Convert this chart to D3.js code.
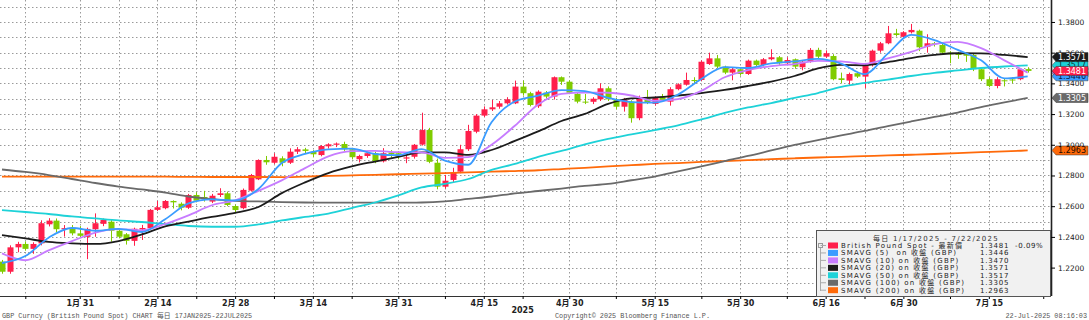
<!DOCTYPE html>
<html>
<head>
<meta charset="utf-8">
<script src="https://cdn.jsdelivr.net/npm/d3@7"></script>
<style>
  body { margin: 0; background: #fff; }
  svg { display: block; }
  text { font-family: "DejaVu Sans", "Noto Sans CJK TC", sans-serif; }
</style>
</head>
<body>
<svg id="chart"></svg>
<script>
const width = 1089, height = 320;
const plot = { left: 0, right: 1051, top: 0, bottom: 296 };

// GBP daily candles from 17 Jan 2025, [open, high, low, close]
const ohlc = [
  [1.2239,1.2250,1.2160,1.2173],[1.2173,1.2345,1.2160,1.2332],[1.2332,1.2368,1.2300,1.2354],[1.2354,1.2370,1.2310,1.2322],
  [1.2322,1.2365,1.2290,1.2354],[1.2358,1.2508,1.2345,1.2489],[1.2482,1.2522,1.2468,1.2506],[1.2506,1.2520,1.2430,1.2450],
  [1.2450,1.2477,1.2402,1.2457],[1.2460,1.2477,1.2410,1.2423],[1.2423,1.2470,1.2395,1.2407],[1.2400,1.2460,1.2255,1.2452],
  [1.2450,1.2553,1.2401,1.2489],[1.2485,1.2520,1.2470,1.2510],[1.2499,1.2512,1.2369,1.2440],[1.2440,1.2452,1.2390,1.2401],
  [1.2417,1.2425,1.2350,1.2374],[1.2374,1.2460,1.2342,1.2453],[1.2448,1.2478,1.2380,1.2458],[1.2457,1.2582,1.2450,1.2576],
  [1.2576,1.2634,1.2568,1.2593],[1.2587,1.2640,1.2580,1.2634],[1.2634,1.2638,1.2585,1.2625],[1.2616,1.2625,1.2573,1.2590],
  [1.2590,1.2680,1.2582,1.2673],[1.2673,1.2690,1.2625,1.2636],[1.2660,1.2700,1.2630,1.2645],[1.2630,1.2680,1.2620,1.2668],
  [1.2673,1.2717,1.2660,1.2684],[1.2684,1.2695,1.2600,1.2608],[1.2601,1.2610,1.2560,1.2575],[1.2587,1.2715,1.2580,1.2706],
  [1.2701,1.2810,1.2695,1.2803],[1.2775,1.2905,1.2770,1.2901],[1.2901,1.2927,1.2870,1.2886],[1.2883,1.2945,1.2875,1.2922],
  [1.2912,1.2925,1.2860,1.2883],[1.2883,1.2977,1.2875,1.2955],[1.2955,1.2985,1.2940,1.2971],[1.2970,1.2980,1.2945,1.2960],
  [1.2955,1.2965,1.2920,1.2938],[1.2933,1.2998,1.2925,1.2992],[1.2990,1.3010,1.2975,1.3003],[1.3000,1.3015,1.2985,1.3008],
  [1.3005,1.3020,1.2960,1.2971],[1.2971,1.2980,1.2905,1.2919],[1.2906,1.2935,1.2885,1.2927],[1.2927,1.2955,1.2915,1.2945],
  [1.2945,1.2955,1.2880,1.2894],[1.2892,1.2978,1.2885,1.2945],[1.2950,1.2965,1.2915,1.2940],[1.2945,1.2958,1.2905,1.2922],
  [1.2910,1.2935,1.2880,1.2918],[1.2922,1.3005,1.2910,1.3000],[1.3001,1.3209,1.2995,1.3096],[1.3096,1.3110,1.2880,1.2889],
  [1.2883,1.2910,1.2710,1.2727],[1.2727,1.2804,1.2715,1.2766],[1.2771,1.2850,1.2753,1.2818],[1.2825,1.3000,1.2815,1.2971],
  [1.2971,1.3130,1.2960,1.3090],[1.3085,1.3200,1.3075,1.3190],[1.3190,1.3250,1.3180,1.3231],[1.3231,1.3292,1.3220,1.3244],
  [1.3248,1.3285,1.3235,1.3270],[1.3270,1.3310,1.3262,1.3296],[1.3270,1.3418,1.3265,1.3379],[1.3379,1.3418,1.3320,1.3336],
  [1.3336,1.3345,1.3250,1.3259],[1.3251,1.3355,1.3240,1.3346],[1.3340,1.3350,1.3300,1.3314],[1.3314,1.3445,1.3295,1.3440],
  [1.3440,1.3445,1.3390,1.3411],[1.3411,1.3420,1.3330,1.3339],[1.3331,1.3340,1.3270,1.3281],[1.3281,1.3331,1.3265,1.3275],
  [1.3280,1.3310,1.3265,1.3300],[1.3296,1.3400,1.3285,1.3368],[1.3368,1.3380,1.3285,1.3296],[1.3296,1.3305,1.3230,1.3248],
  [1.3248,1.3305,1.3216,1.3296],[1.3281,1.3290,1.3144,1.3173],[1.3173,1.3320,1.3160,1.3310],[1.3303,1.3357,1.3265,1.3274],
  [1.3266,1.3315,1.3255,1.3307],[1.3310,1.3331,1.3280,1.3287],[1.3281,1.3375,1.3255,1.3362],[1.3362,1.3400,1.3355,1.3394],
  [1.3391,1.3470,1.3385,1.3422],[1.3422,1.3440,1.3400,1.3415],[1.3422,1.3550,1.3415,1.3541],[1.3526,1.3600,1.3520,1.3563],
  [1.3563,1.3585,1.3500,1.3509],[1.3509,1.3515,1.3460,1.3470],[1.3470,1.3500,1.3420,1.3492],[1.3492,1.3500,1.3450,1.3461],
  [1.3461,1.3555,1.3455,1.3548],[1.3548,1.3555,1.3510,1.3520],[1.3520,1.3565,1.3510,1.3557],[1.3557,1.3622,1.3550,1.3570],
  [1.3570,1.3578,1.3520,1.3531],[1.3531,1.3570,1.3525,1.3552],[1.3557,1.3562,1.3495,1.3509],[1.3505,1.3550,1.3485,1.3541],
  [1.3541,1.3630,1.3535,1.3618],[1.3618,1.3632,1.3560,1.3574],[1.3574,1.3615,1.3565,1.3596],[1.3578,1.3590,1.3420,1.3427],
  [1.3433,1.3470,1.3400,1.3422],[1.3418,1.3470,1.3390,1.3461],[1.3466,1.3475,1.3435,1.3444],[1.3444,1.3525,1.3370,1.3520],
  [1.3520,1.3620,1.3510,1.3613],[1.3613,1.3670,1.3600,1.3661],[1.3661,1.3774,1.3655,1.3726],[1.3726,1.3755,1.3705,1.3715],
  [1.3703,1.3740,1.3695,1.3733],[1.3733,1.3787,1.3725,1.3748],[1.3743,1.3750,1.3610,1.3635],[1.3639,1.3720,1.3600,1.3661],
  [1.3661,1.3670,1.3640,1.3655],[1.3650,1.3660,1.3585,1.3600],[1.3600,1.3610,1.3531,1.3590],[1.3592,1.3605,1.3560,1.3585],
  [1.3590,1.3600,1.3540,1.3580],[1.3585,1.3592,1.3480,1.3492],[1.3492,1.3500,1.3415,1.3427],[1.3427,1.3440,1.3375,1.3383],
  [1.3383,1.3440,1.3368,1.3427],[1.3420,1.3435,1.3380,1.3414],[1.3425,1.3440,1.3400,1.3420],[1.3427,1.3500,1.3420,1.3492],
  [1.3493,1.3505,1.3470,1.3481]
];

// moving averages every third trading day
const smaDays = d3.range(0, 133, 3);
const sma5 = [1.2230,1.2275,1.2395,1.2458,1.2440,1.2452,1.2432,1.2515,1.2618,1.2645,1.2637,1.2712,1.2881,1.2940,1.2970,
  1.2975,1.2940,1.2932,1.2972,1.2897,1.2870,1.3147,1.3282,1.3320,1.3356,1.3350,1.3306,1.3278,1.3274,1.3327,
  1.3428,1.3506,1.3500,1.3530,1.3543,1.3559,1.3529,1.3460,1.3594,1.3716,1.3682,1.3618,1.3550,1.3432,1.3446];
const sma10 = [1.2293,1.2248,1.2312,1.2372,1.2428,1.2450,1.2443,1.2484,1.2540,1.2606,1.2638,1.2700,1.2768,1.2848,1.2925,
  1.2958,1.2960,1.2952,1.2950,1.2915,1.2920,1.3000,1.3124,1.3263,1.3332,1.3340,1.3339,1.3321,1.3286,1.3298,
  1.3351,1.3440,1.3487,1.3512,1.3526,1.3546,1.3543,1.3527,1.3562,1.3605,1.3655,1.3670,1.3630,1.3550,1.3470];
const sma20 = [1.2412,1.2390,1.2367,1.2358,1.2354,1.2373,1.2416,1.2468,1.2500,1.2530,1.2556,1.2595,1.2685,1.2755,1.2816,
  1.2859,1.2891,1.2921,1.2950,1.2950,1.2934,1.2966,1.3025,1.3087,1.3155,1.3201,1.3266,1.3302,1.3308,1.3321,
  1.3337,1.3357,1.3383,1.3412,1.3448,1.3497,1.3520,1.3518,1.3539,1.3565,1.3585,1.3596,1.3595,1.3585,1.3571];
const sma50 = [1.2575,1.2562,1.2549,1.2533,1.2520,1.2507,1.2497,1.2484,1.2471,1.2466,1.2466,1.2481,1.2507,1.2530,1.2552,
  1.2588,1.2624,1.2670,1.2722,1.2745,1.2777,1.2836,1.2875,1.2921,1.2960,1.3002,1.3038,1.3067,1.3096,1.3126,
  1.3165,1.3207,1.3243,1.3272,1.3305,1.3337,1.3377,1.3403,1.3425,1.3448,1.3468,1.3484,1.3500,1.3510,1.3517];
const sma100 = [1.2839,1.2823,1.2803,1.2777,1.2751,1.2728,1.2709,1.2689,1.2663,1.2647,1.2634,1.2631,1.2627,1.2624,1.2623,
  1.2623,1.2623,1.2623,1.2624,1.2631,1.2647,1.2663,1.2683,1.2699,1.2715,1.2732,1.2745,1.2769,1.2793,1.2826,
  1.2859,1.2894,1.2927,1.2963,1.2999,1.3031,1.3061,1.3090,1.3122,1.3152,1.3181,1.3210,1.3246,1.3276,1.3305];
const sma200 = [1.2793,1.2793,1.2793,1.2793,1.2792,1.2792,1.2792,1.2792,1.2791,1.2790,1.2790,1.2790,1.2789,1.2793,1.2797,
  1.2801,1.2804,1.2808,1.2812,1.2816,1.2820,1.2825,1.2829,1.2834,1.2842,1.2850,1.2859,1.2867,1.2875,1.2881,
  1.2888,1.2894,1.2900,1.2906,1.2912,1.2917,1.2921,1.2926,1.2931,1.2935,1.2940,1.2946,1.2952,1.2957,1.2963];

const yTicks = [1.22, 1.24, 1.26, 1.28, 1.30, 1.32, 1.34, 1.36, 1.38];
const labelDates = ["2025-01-31","2025-02-14","2025-02-28","2025-03-14","2025-03-31","2025-04-15",
                    "2025-04-30","2025-05-15","2025-05-30","2025-06-16","2025-06-30","2025-07-15"];
const minorDates = ["2025-01-22","2025-02-07","2025-02-21","2025-03-07","2025-03-21","2025-04-08","2025-04-22",
                    "2025-05-08","2025-05-23","2025-06-09","2025-06-23","2025-07-08","2025-07-24"];

const legendTitle = "每日 1/17/2025 - 7/22/2025";
const legendNames = ["British Pound Spot - 最新價", "SMAVG (5)  on 收盤 (GBP)", "SMAVG (10) on 收盤 (GBP)",
  "SMAVG (20) on 收盤 (GBP)", "SMAVG (50) on 收盤 (GBP)", "SMAVG (100) on 收盤 (GBP)", "SMAVG (200) on 收盤 (GBP)"];
const lastValues = [1.3481, 1.3446, 1.3470, 1.3571, 1.3517, 1.3305, 1.2963];
const lastChange = "-0.09%";

const colors = ["#ff1f4b", "#3a9cff", "#c77cff", "#1c1c1c", "#1ed2d8", "#6a6a6a", "#ff6a0a"];
const tagText = ["#fff", "#06224a", "#fff", "#fff", "#0a3a3c", "#fff", "#1a0a00"];
const upColor = "#ff1f4b", downColor = "#80cc00";

// trading days (weekdays), chart runs to 25 Jul
const days = d3.timeDay.range(new Date(2025, 0, 17), new Date(2025, 6, 26)).filter(d => d.getDay() % 6 !== 0);
const fmt = d3.timeFormat("%Y-%m-%d");
const dayIndex = s => days.findIndex(d => fmt(d) === s);

const svg = d3.select("#chart").attr("width", width).attr("height", height);

const x = d3.scaleLinear().domain([0, days.length - 1]).range([2, plot.right]);
const y = d3.scaleLinear().domain([1.2015, 1.3943]).range([plot.bottom, plot.top]);

svg.append("defs").append("clipPath").attr("id", "clip")
  .append("rect").attr("x", plot.left).attr("y", plot.top)
  .attr("width", plot.right - plot.left).attr("height", plot.bottom - plot.top);

// grid
const grid = svg.append("g").attr("stroke", "#9a9a9a").attr("stroke-width", 1).attr("stroke-dasharray", "1.5,2.5");
grid.selectAll(".hg").data(d3.range(121, 140).map(v => v / 100)).enter().append("line")
  .attr("x1", plot.left).attr("x2", plot.right)
  .attr("y1", d => Math.round(y(d)) + 0.5).attr("y2", d => Math.round(y(d)) + 0.5);
const vIdx = labelDates.concat(minorDates).map(dayIndex);
grid.selectAll(".vg").data(vIdx).enter().append("line")
  .attr("y1", plot.top).attr("y2", plot.bottom)
  .attr("x1", d => Math.round(x(d)) + 0.5).attr("x2", d => Math.round(x(d)) + 0.5);

const chart = svg.append("g").attr("clip-path", "url(#clip)");

// candles
const candles = chart.selectAll(".candle").data(ohlc).enter().append("g")
  .attr("fill", d => d[3] >= d[0] ? upColor : downColor)
  .attr("stroke", d => d[3] >= d[0] ? upColor : downColor);
candles.append("line")
  .attr("x1", (d, i) => Math.round(x(i)) + 0.5).attr("x2", (d, i) => Math.round(x(i)) + 0.5)
  .attr("y1", d => y(d[1])).attr("y2", d => y(d[2])).attr("stroke-width", 1);
candles.append("rect")
  .attr("stroke", "none")
  .attr("x", (d, i) => Math.round(x(i)) - 2.5).attr("width", 6)
  .attr("y", d => y(Math.max(d[0], d[3])))
  .attr("height", d => Math.max(1, Math.abs(y(d[0]) - y(d[3]))));

// moving averages
const line = d3.line().x((d, k) => x(smaDays[k])).y(d => y(d)).curve(d3.curveMonotoneX);
const smas = [sma200, sma100, sma50, sma20, sma10, sma5];
const smaColors = [colors[6], colors[5], colors[4], colors[3], colors[2], colors[1]];
chart.selectAll(".sma").data(smas).enter().append("path")
  .attr("d", line).attr("fill", "none")
  .attr("stroke", (d, i) => smaColors[i]).attr("stroke-width", 1.8);

// bottom axis
svg.append("line").attr("x1", plot.left).attr("x2", plot.right)
  .attr("y1", plot.bottom + 0.5).attr("y2", plot.bottom + 0.5).attr("stroke", "#333");
const xAxis = svg.append("g").attr("transform", `translate(0,${plot.bottom})`)
  .call(d3.axisBottom(x).tickValues(labelDates.map(dayIndex)).tickSize(3).tickSizeOuter(0).tickPadding(1)
    .tickFormat(i => `${days[i].getMonth() + 1}月 ${days[i].getDate()}`));
xAxis.select(".domain").remove();
xAxis.selectAll("text").attr("font-size", 8).attr("font-weight", "bold").attr("fill", "#222");
const xMinor = svg.append("g").attr("transform", `translate(0,${plot.bottom})`)
  .call(d3.axisBottom(x).tickValues(minorDates.map(dayIndex)).tickSize(3).tickSizeOuter(0).tickFormat(""));
xMinor.select(".domain").remove();
svg.append("text").attr("x", x(dayIndex("2025-04-22"))).attr("y", 313).attr("text-anchor", "middle")
  .attr("font-size", 8).attr("font-weight", "bold").attr("fill", "#222").text("2025");

// right axis
const yAxis = svg.append("g").attr("transform", `translate(${plot.right},0)`)
  .call(d3.axisRight(y).tickValues(yTicks).tickSize(4).tickSizeOuter(0).tickPadding(3).tickFormat(d3.format(".4f")));
yAxis.select(".domain").attr("stroke", "#222").attr("stroke-width", 1.6)
  .attr("d", `M0.5,${plot.top}V${plot.bottom}`);
yAxis.selectAll("text").attr("font-size", 7.5).attr("fill", "#222");

// last value tags
const tagOrder = [5, 6, 2, 1, 4, 3, 0];
const tags = svg.selectAll(".tag").data(tagOrder).enter().append("g")
  .attr("transform", i => `translate(${plot.right + 1},${y(lastValues[i])})`);
tags.append("path").attr("d", "M0,0L4,-4.5H36V4.5H4Z")
  .attr("fill", i => colors[i]).attr("stroke", "#333").attr("stroke-width", 0.5);
tags.append("text").attr("x", 6).attr("dy", "0.35em").attr("font-size", 8)
  .attr("fill", i => tagText[i]).text(i => lastValues[i].toFixed(4));

// legend
const lg = svg.append("g");
lg.append("rect").attr("x", 816.5).attr("y", 230.5).attr("width", 234).attr("height", 66)
  .attr("fill", "#f1f1f1").attr("stroke", "#555");
lg.append("text").attr("x", 936).attr("y", 240.5).attr("text-anchor", "middle")
  .attr("font-size", 7).attr("letter-spacing", 1.3).attr("fill", "#333").text(legendTitle);
lg.append("rect").attr("x", 818.5).attr("y", 243.5).attr("width", 4).attr("height", 4)
  .attr("fill", "none").attr("stroke", "#999");
lg.append("line").attr("x1", 820.5).attr("x2", 820.5).attr("y1", 248).attr("y2", 291).attr("stroke", "#aaa");
const rows = lg.selectAll(".row").data(legendNames).enter().append("g")
  .attr("transform", (d, i) => `translate(0,${245.5 + i * 7.45})`);
rows.append("line").attr("x1", 820.5).attr("x2", 826).attr("stroke", "#aaa");
rows.append("rect").attr("x", 828).attr("y", -3).attr("width", 10).attr("height", 6)
  .attr("fill", (d, i) => colors[i]);
rows.append("text").attr("x", 841).attr("dy", "0.36em").attr("font-size", 7).attr("letter-spacing", 1.25)
  .style("white-space", "pre").attr("fill", "#222").text(d => d);
rows.append("text").attr("x", 980).attr("dy", "0.36em").attr("font-size", 7).attr("letter-spacing", 0.8)
  .attr("fill", "#222").text((d, i) => lastValues[i].toFixed(4));
rows.filter((d, i) => i === 0).append("text").attr("x", 1015).attr("dy", "0.36em").attr("font-size", 7)
  .attr("letter-spacing", 0.6).attr("fill", "#222").text(lastChange);

// footer
const foot = svg.append("g").attr("font-size", 6.8).attr("fill", "#555")
  .style("font-family", "'Liberation Mono', 'Noto Sans CJK TC', monospace").style("white-space", "pre");
foot.append("text").attr("x", 2).attr("y", 318).style("font-family", "inherit")
  .text("GBP Curncy (British Pound Spot) CHART  每日 17JAN2025-22JUL2025");
foot.append("text").attr("x", 555).attr("y", 318).style("font-family", "inherit")
  .text("Copyright© 2025 Bloomberg Finance L.P.");
foot.append("text").attr("x", 1087).attr("y", 318).attr("text-anchor", "end").style("font-family", "inherit")
  .text("22-Jul-2025 08:16:03");
</script>
</body>
</html>
